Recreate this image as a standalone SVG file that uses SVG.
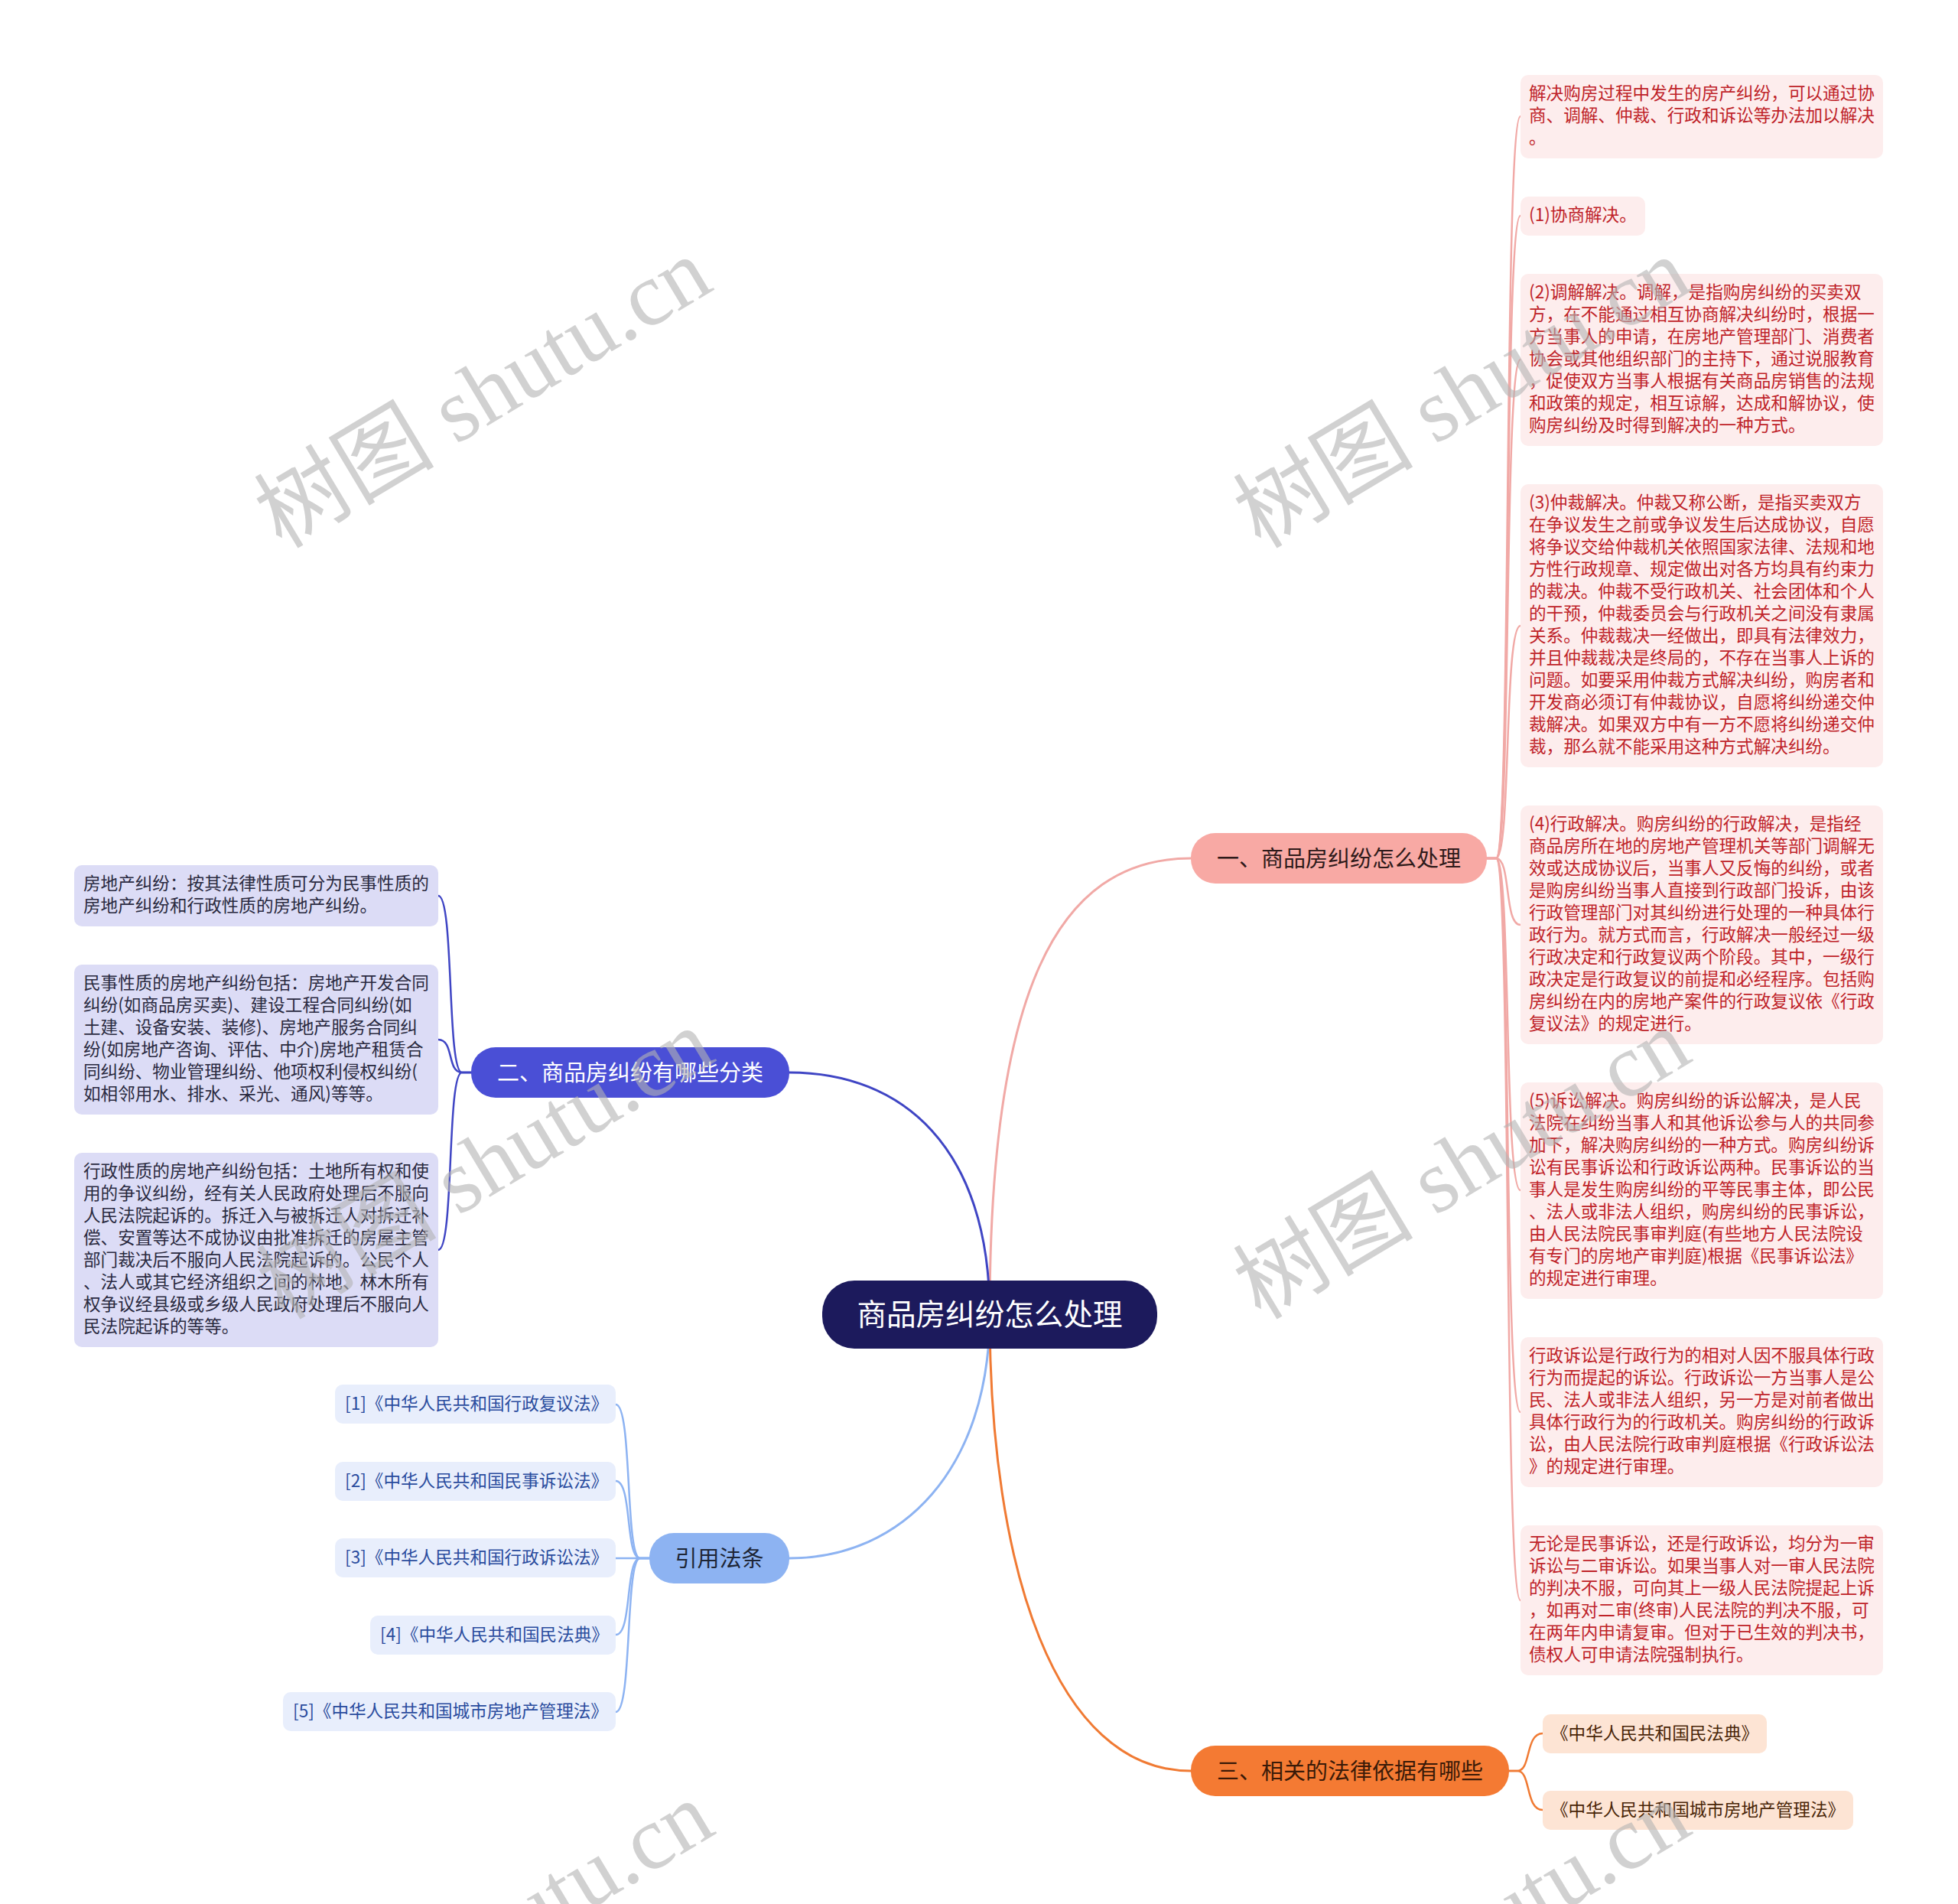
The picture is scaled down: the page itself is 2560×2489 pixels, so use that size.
<svg xmlns="http://www.w3.org/2000/svg" width="2560" height="2489" viewBox="0 0 2560 2489">
<style>
.t{font-family:"Noto Sans CJK SC","Liberation Sans",sans-serif;}
.leafR rect{fill:#fdeded;}
.leafR text{fill:#bf2329;font-size:22.6px;}
.leafB rect{fill:#dcdcf6;}
.leafB text{fill:#2a2a40;font-size:22.6px;}
.leafC rect{fill:#e8eefc;}
.leafC text{fill:#2a4c9e;font-size:22.6px;}
.leafO rect{fill:#fde4d4;}
.leafO text{fill:#4a2608;font-size:22.6px;}
.br text{font-size:29px;text-anchor:middle;}
.cR{stroke:#f1a9a6;}
.cB{stroke:#3f45c4;}
.cC{stroke:#8db3f2;}
.cO{stroke:#f07a33;}
#connectors path{fill:none;stroke-width:2.5;stroke-linecap:round;}
#connectors path.m{stroke-width:3;}
.wm{font-family:"Liberation Serif","Noto Sans CJK SC",serif;font-size:118px;fill:#b4b4b4;opacity:0.6;text-anchor:middle;}
</style>
<rect width="2560" height="2489" fill="#ffffff"/>
<g id="connectors">
<path class="m cR" d="M1294,1718 C1294,1300 1380,1122 1557,1122"/>
<path class="m cB" d="M1294,1718 C1294,1500 1180,1402 1032,1402"/>
<path class="m cC" d="M1294,1718 C1294,1920 1180,2037 1032,2037"/>
<path class="m cO" d="M1294,1718 C1294,2050 1380,2315 1557,2315"/>
<path class="cR" d="M1944,1122 L1956,1122 C1976,1122 1966,152 1988,152"/>
<path class="cR" d="M1944,1122 L1956,1122 C1976,1122 1966,282 1988,282"/>
<path class="cR" d="M1944,1122 L1956,1122 C1976,1122 1966,470 1988,470"/>
<path class="cR" d="M1944,1122 L1956,1122 C1976,1122 1966,818 1988,818"/>
<path class="cR" d="M1944,1122 L1956,1122 C1976,1122 1966,1209 1988,1209"/>
<path class="cR" d="M1944,1122 L1956,1122 C1976,1122 1966,1556 1988,1556"/>
<path class="cR" d="M1944,1122 L1956,1122 C1976,1122 1966,1846 1988,1846"/>
<path class="cR" d="M1944,1122 L1956,1122 C1976,1122 1966,2092 1988,2092"/>
<path class="cB" d="M616,1402 L604,1402 C584,1402 594,1171 573,1171"/>
<path class="cB" d="M616,1402 L604,1402 C584,1402 594,1359 573,1359"/>
<path class="cB" d="M616,1402 L604,1402 C584,1402 594,1634 573,1634"/>
<path class="cC" d="M849,2037 L837,2037 C817,2037 827,1836 805,1836"/>
<path class="cC" d="M849,2037 L837,2037 C817,2037 827,1936 805,1936"/>
<path class="cC" d="M849,2037 L805,2037"/>
<path class="cC" d="M849,2037 L837,2037 C817,2037 827,2137 805,2137"/>
<path class="cC" d="M849,2037 L837,2037 C817,2037 827,2238 805,2238"/>
<path class="cO" d="M1973,2315 L1984,2315 C2002,2315 1994,2266 2017,2266"/>
<path class="cO" d="M1973,2315 L1984,2315 C2002,2315 1994,2366 2017,2366"/>
</g>
<g id="root">
<rect x="1075" y="1674" width="438" height="89" rx="42" fill="#1c1a5c"/>
<text class="t" x="1294" y="1732" font-size="38.6" fill="#ffffff" text-anchor="middle">商品房纠纷怎么处理</text>
</g>
<g id="branch1" class="br">
<rect x="1557" y="1089" width="387" height="66" rx="32" fill="#f8a9a4"/>
<text class="t" x="1750.5" y="1132.5" fill="#2e1a1a">一、商品房纠纷怎么处理</text>
</g>
<g id="branch2" class="br">
<rect x="616" y="1369" width="416" height="66" rx="32" fill="#4a4fd6"/>
<text class="t" x="824" y="1412.5" fill="#ffffff">二、商品房纠纷有哪些分类</text>
</g>
<g id="branch3" class="br">
<rect x="849" y="2004" width="183" height="66" rx="32" fill="#8db3f2"/>
<text class="t" x="940.5" y="2047.5" fill="#1e2636">引用法条</text>
</g>
<g id="branch4" class="br">
<rect x="1557" y="2282" width="416" height="66" rx="32" fill="#f47a33"/>
<text class="t" x="1765" y="2325.5" fill="#3a1a08">三、相关的法律依据有哪些</text>
</g>
<g id="leaf-r1" class="leafR">
<rect x="1988" y="98" width="474" height="109" rx="10"/>
<text class="t"><tspan x="1999" y="130">解决购房过程中发生的房产纠纷，可以通过协</tspan><tspan x="1999" y="159">商、调解、仲裁、行政和诉讼等办法加以解决</tspan><tspan x="1999" y="188">。</tspan></text>
</g>
<g id="leaf-r2" class="leafR">
<rect x="1988" y="257" width="163" height="51" rx="10"/>
<text class="t" x="1999" y="289">(1)协商解决。</text>
</g>
<g id="leaf-r3" class="leafR">
<rect x="1988" y="358" width="474" height="225" rx="10"/>
<text class="t"><tspan x="1999" y="390">(2)调解解决。调解，是指购房纠纷的买卖双</tspan><tspan x="1999" y="419">方，在不能通过相互协商解决纠纷时，根据一</tspan><tspan x="1999" y="448">方当事人的申请，在房地产管理部门、消费者</tspan><tspan x="1999" y="477">协会或其他组织部门的主持下，通过说服教育</tspan><tspan x="1999" y="506">，促使双方当事人根据有关商品房销售的法规</tspan><tspan x="1999" y="535">和政策的规定，相互谅解，达成和解协议，使</tspan><tspan x="1999" y="564">购房纠纷及时得到解决的一种方式。</tspan></text>
</g>
<g id="leaf-r4" class="leafR">
<rect x="1988" y="633" width="474" height="370" rx="10"/>
<text class="t"><tspan x="1999" y="665">(3)仲裁解决。仲裁又称公断，是指买卖双方</tspan><tspan x="1999" y="694">在争议发生之前或争议发生后达成协议，自愿</tspan><tspan x="1999" y="723">将争议交给仲裁机关依照国家法律、法规和地</tspan><tspan x="1999" y="752">方性行政规章、规定做出对各方均具有约束力</tspan><tspan x="1999" y="781">的裁决。仲裁不受行政机关、社会团体和个人</tspan><tspan x="1999" y="810">的干预，仲裁委员会与行政机关之间没有隶属</tspan><tspan x="1999" y="839">关系。仲裁裁决一经做出，即具有法律效力，</tspan><tspan x="1999" y="868">并且仲裁裁决是终局的，不存在当事人上诉的</tspan><tspan x="1999" y="897">问题。如要采用仲裁方式解决纠纷，购房者和</tspan><tspan x="1999" y="926">开发商必须订有仲裁协议，自愿将纠纷递交仲</tspan><tspan x="1999" y="955">裁解决。如果双方中有一方不愿将纠纷递交仲</tspan><tspan x="1999" y="984">裁，那么就不能采用这种方式解决纠纷。</tspan></text>
</g>
<g id="leaf-r5" class="leafR">
<rect x="1988" y="1053" width="474" height="312" rx="10"/>
<text class="t"><tspan x="1999" y="1085">(4)行政解决。购房纠纷的行政解决，是指经</tspan><tspan x="1999" y="1114">商品房所在地的房地产管理机关等部门调解无</tspan><tspan x="1999" y="1143">效或达成协议后，当事人又反悔的纠纷，或者</tspan><tspan x="1999" y="1172">是购房纠纷当事人直接到行政部门投诉，由该</tspan><tspan x="1999" y="1201">行政管理部门对其纠纷进行处理的一种具体行</tspan><tspan x="1999" y="1230">政行为。就方式而言，行政解决一般经过一级</tspan><tspan x="1999" y="1259">行政决定和行政复议两个阶段。其中，一级行</tspan><tspan x="1999" y="1288">政决定是行政复议的前提和必经程序。包括购</tspan><tspan x="1999" y="1317">房纠纷在内的房地产案件的行政复议依《行政</tspan><tspan x="1999" y="1346">复议法》的规定进行。</tspan></text>
</g>
<g id="leaf-r6" class="leafR">
<rect x="1988" y="1415" width="474" height="283" rx="10"/>
<text class="t"><tspan x="1999" y="1447">(5)诉讼解决。购房纠纷的诉讼解决，是人民</tspan><tspan x="1999" y="1476">法院在纠纷当事人和其他诉讼参与人的共同参</tspan><tspan x="1999" y="1505">加下，解决购房纠纷的一种方式。购房纠纷诉</tspan><tspan x="1999" y="1534">讼有民事诉讼和行政诉讼两种。民事诉讼的当</tspan><tspan x="1999" y="1563">事人是发生购房纠纷的平等民事主体，即公民</tspan><tspan x="1999" y="1592">、法人或非法人组织，购房纠纷的民事诉讼，</tspan><tspan x="1999" y="1621">由人民法院民事审判庭(有些地方人民法院设</tspan><tspan x="1999" y="1650">有专门的房地产审判庭)根据《民事诉讼法》</tspan><tspan x="1999" y="1679">的规定进行审理。</tspan></text>
</g>
<g id="leaf-r7" class="leafR">
<rect x="1988" y="1748" width="474" height="196" rx="10"/>
<text class="t"><tspan x="1999" y="1780">行政诉讼是行政行为的相对人因不服具体行政</tspan><tspan x="1999" y="1809">行为而提起的诉讼。行政诉讼一方当事人是公</tspan><tspan x="1999" y="1838">民、法人或非法人组织，另一方是对前者做出</tspan><tspan x="1999" y="1867">具体行政行为的行政机关。购房纠纷的行政诉</tspan><tspan x="1999" y="1896">讼，由人民法院行政审判庭根据《行政诉讼法</tspan><tspan x="1999" y="1925">》的规定进行审理。</tspan></text>
</g>
<g id="leaf-r8" class="leafR">
<rect x="1988" y="1994" width="474" height="196" rx="10"/>
<text class="t"><tspan x="1999" y="2026">无论是民事诉讼，还是行政诉讼，均分为一审</tspan><tspan x="1999" y="2055">诉讼与二审诉讼。如果当事人对一审人民法院</tspan><tspan x="1999" y="2084">的判决不服，可向其上一级人民法院提起上诉</tspan><tspan x="1999" y="2113">，如再对二审(终审)人民法院的判决不服，可</tspan><tspan x="1999" y="2142">在两年内申请复审。但对于已生效的判决书，</tspan><tspan x="1999" y="2171">债权人可申请法院强制执行。</tspan></text>
</g>
<g id="leaf-b1" class="leafB">
<rect x="97" y="1131" width="476" height="80" rx="10"/>
<text class="t"><tspan x="109" y="1163">房地产纠纷：按其法律性质可分为民事性质的</tspan><tspan x="109" y="1192">房地产纠纷和行政性质的房地产纠纷。</tspan></text>
</g>
<g id="leaf-b2" class="leafB">
<rect x="97" y="1261" width="476" height="196" rx="10"/>
<text class="t"><tspan x="109" y="1293">民事性质的房地产纠纷包括：房地产开发合同</tspan><tspan x="109" y="1322">纠纷(如商品房买卖)、建设工程合同纠纷(如</tspan><tspan x="109" y="1351">土建、设备安装、装修)、房地产服务合同纠</tspan><tspan x="109" y="1380">纷(如房地产咨询、评估、中介)房地产租赁合</tspan><tspan x="109" y="1409">同纠纷、物业管理纠纷、他项权利侵权纠纷(</tspan><tspan x="109" y="1438">如相邻用水、排水、采光、通风)等等。</tspan></text>
</g>
<g id="leaf-b3" class="leafB">
<rect x="97" y="1507" width="476" height="254" rx="10"/>
<text class="t"><tspan x="109" y="1539">行政性质的房地产纠纷包括：土地所有权和使</tspan><tspan x="109" y="1568">用的争议纠纷，经有关人民政府处理后不服向</tspan><tspan x="109" y="1597">人民法院起诉的。拆迁入与被拆迁人对拆迁补</tspan><tspan x="109" y="1626">偿、安置等达不成协议由批准拆迁的房屋主管</tspan><tspan x="109" y="1655">部门裁决后不服向人民法院起诉的。公民个人</tspan><tspan x="109" y="1684">、法人或其它经济组织之间的林地、林木所有</tspan><tspan x="109" y="1713">权争议经县级或乡级人民政府处理后不服向人</tspan><tspan x="109" y="1742">民法院起诉的等等。</tspan></text>
</g>
<g id="ref-1" class="leafC">
<rect x="438" y="1810" width="367" height="51" rx="10"/>
<text class="t" x="451" y="1843">[1]《中华人民共和国行政复议法》</text>
</g>
<g id="ref-2" class="leafC">
<rect x="438" y="1911" width="367" height="51" rx="10"/>
<text class="t" x="451" y="1944">[2]《中华人民共和国民事诉讼法》</text>
</g>
<g id="ref-3" class="leafC">
<rect x="438" y="2011" width="367" height="51" rx="10"/>
<text class="t" x="451" y="2044">[3]《中华人民共和国行政诉讼法》</text>
</g>
<g id="ref-4" class="leafC">
<rect x="484" y="2112" width="321" height="51" rx="10"/>
<text class="t" x="497" y="2145">[4]《中华人民共和国民法典》</text>
</g>
<g id="ref-5" class="leafC">
<rect x="370" y="2212" width="435" height="51" rx="10"/>
<text class="t" x="383" y="2245">[5]《中华人民共和国城市房地产管理法》</text>
</g>
<g id="law-1" class="leafO">
<rect x="2017" y="2241" width="293" height="51" rx="10"/>
<text class="t" x="2028" y="2274">《中华人民共和国民法典》</text>
</g>
<g id="law-2" class="leafO">
<rect x="2017" y="2341" width="406" height="51" rx="10"/>
<text class="t" x="2028" y="2374">《中华人民共和国城市房地产管理法》</text>
</g>
<g id="watermarks">
<text class="wm" transform="translate(652,548) rotate(-31)">树图 shutu.cn</text>
<text class="wm" transform="translate(1932,548) rotate(-31)">树图 shutu.cn</text>
<text class="wm" transform="translate(655,1556) rotate(-31)">树图 shutu.cn</text>
<text class="wm" transform="translate(1932,1556) rotate(-31)">树图 shutu.cn</text>
<text class="wm" transform="translate(655,2566) rotate(-31)">树图 shutu.cn</text>
<text class="wm" transform="translate(1932,2566) rotate(-31)">树图 shutu.cn</text>
</g>
</svg>
